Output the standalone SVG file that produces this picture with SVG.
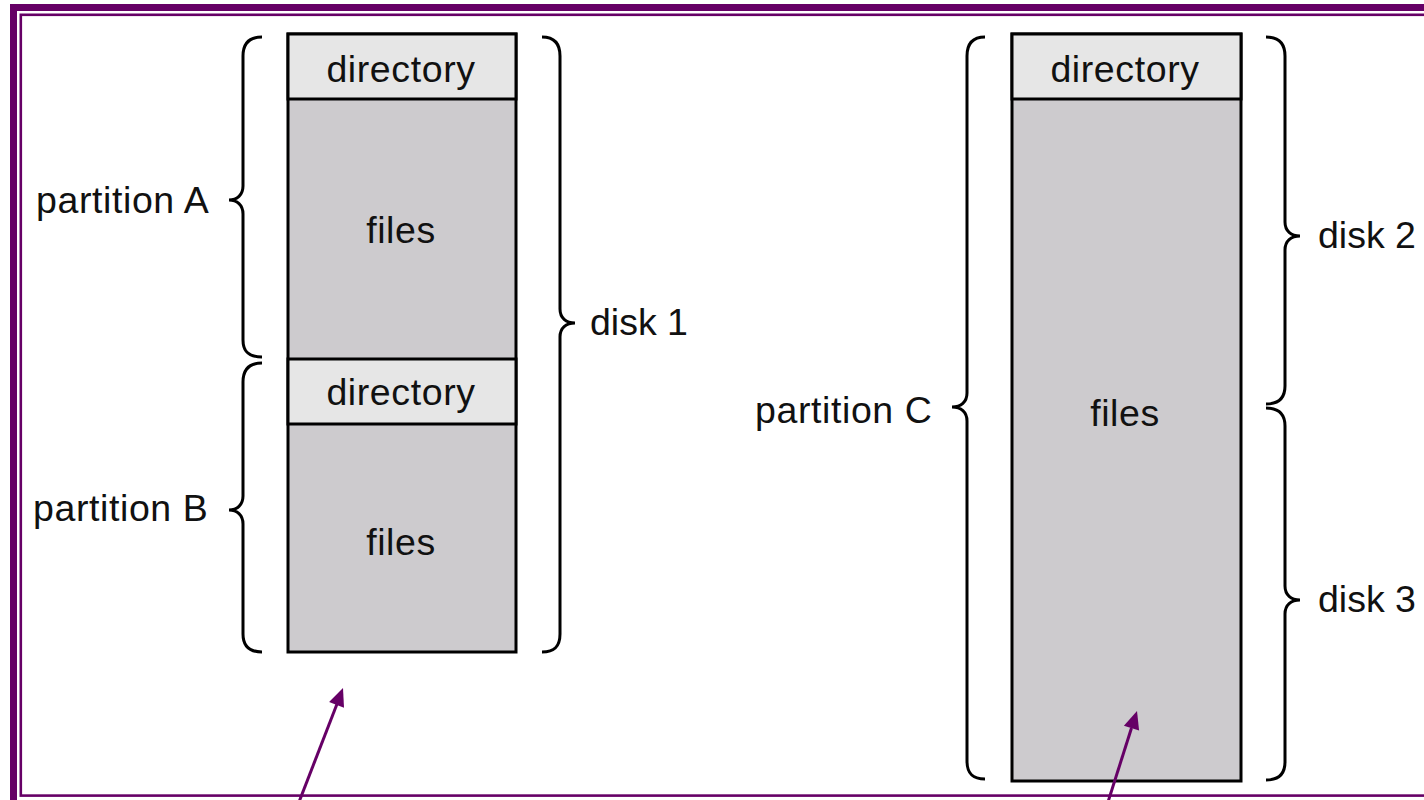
<svg xmlns="http://www.w3.org/2000/svg" width="1424" height="800" viewBox="0 0 1424 800">
<style>
.frame{fill:none;stroke:#660066}
.box{stroke:#000;stroke-width:3}
.dir{fill:#e6e6e6}
.files{fill:#cdcbce}
.brace{fill:none;stroke:#000;stroke-width:3;stroke-linecap:butt}
.lbl{font-family:"Liberation Sans",Arial,sans-serif;font-size:37.5px;letter-spacing:0.6px;fill:#111}
.tight{letter-spacing:0}
.mid{text-anchor:middle}
.arrow{stroke:#660066;stroke-width:3;fill:none}
.head{fill:#660066;stroke:none}
</style>
<rect width="1424" height="800" fill="#fff"/>
<g id="frame">
<rect class="frame" x="13.5" y="7.5" width="1440" height="810" stroke-width="7"/>
<rect class="frame" x="20.8" y="14.8" width="1420" height="780.8" stroke-width="2.6"/>
</g>
<g id="disk1">
<rect class="box files" x="288" y="34" width="228" height="618"/>
<rect class="box dir" x="288" y="34" width="228" height="65"/>
<rect class="box dir" x="288" y="359" width="228" height="65"/>
<text class="lbl mid" x="401" y="82">directory</text>
<text class="lbl mid" x="401" y="243">files</text>
<text class="lbl mid" x="401" y="405">directory</text>
<text class="lbl mid" x="401" y="555">files</text>
</g>
<g id="disk23">
<rect class="box files" x="1012" y="34" width="229" height="747"/>
<rect class="box dir" x="1012" y="34" width="229" height="65"/>
<text class="lbl mid" x="1125" y="82">directory</text>
<text class="lbl mid" x="1125" y="426">files</text>
</g>
<g id="partitionA">
<path class="brace" d="M262,37 C249,37 243,44 243,56 V186 C243,195 237,200 229,200 C237,200 243,205 243,214 V340 C243,352 249,357 262,357"/>
<text class="lbl" x="36" y="213">partition A</text>
</g>
<g id="partitionB">
<path class="brace" d="M262,363 C249,363 243,370 243,382 V496 C243,505 237,510 229,510 C237,510 243,515 243,524 V634 C243,646 249,652 262,652"/>
<text class="lbl" x="33" y="521">partition B</text>
</g>
<g id="disk1brace">
<path class="brace" d="M542,37 C555,37 560,44 560,56 V309 C560,318 566,323 575,323 C566,323 560,328 560,337 V634 C560,646 555,652 542,652"/>
<text class="lbl tight" x="590" y="335">disk 1</text>
</g>
<g id="partitionC">
<path class="brace" d="M985,37 C972,37 967,44 967,56 V393 C967,402 961,407 952,407 C961,407 967,412 967,421 V761 C967,773 972,779 985,779"/>
<text class="lbl" x="755" y="423">partition C</text>
</g>
<g id="disk2">
<path class="brace" d="M1266,37 C1279,37 1285,44 1285,56 V222 C1285,231 1291,236 1300,236 C1291,236 1285,241 1285,250 V386 C1285,398 1279,404 1266,404"/>
<text class="lbl tight" x="1318" y="248">disk 2</text>
</g>
<g id="disk3">
<path class="brace" d="M1266,408 C1279,408 1285,414 1285,426 V586 C1285,595 1291,600 1300,600 C1291,600 1285,605 1285,614 V762 C1285,774 1279,780 1266,780"/>
<text class="lbl tight" x="1318" y="612">disk 3</text>
</g>
<g id="connectors">
<line class="arrow" x1="299" y1="802" x2="337" y2="704"/>
<polygon class="head" points="343,688 344,707.7 329.1,701.9"/>
<line class="arrow" x1="1108" y1="802" x2="1131.5" y2="728"/>
<polygon class="head" points="1137,711 1139.1,730.6 1123.9,725.8"/>
</g>
</svg>
